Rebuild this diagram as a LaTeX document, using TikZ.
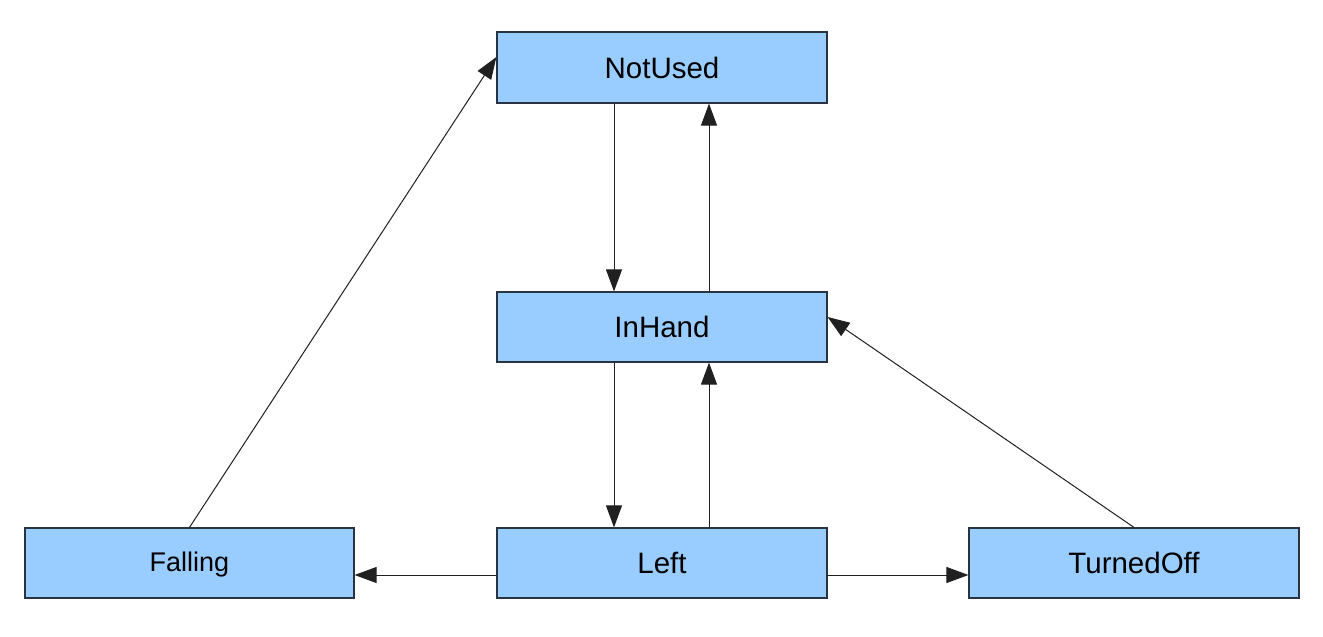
\documentclass[tikz,border=0pt]{standalone}
\usepackage{fontspec}
\setmainfont{Liberation Sans}
\usetikzlibrary{arrows.meta}
\definecolor{boxfill}{HTML}{99CCFF}
\definecolor{boxline}{HTML}{2A3440}
\definecolor{arrline}{HTML}{202020}
\begin{document}
\begin{tikzpicture}[x=1pt,y=-1pt,
  state/.style={draw=boxline,fill=boxfill,line width=1.2pt,minimum width=330pt,minimum height=70pt,inner sep=0pt,font=\fontsize{29.5}{34}\selectfont},
  conn/.style={draw=arrline,line width=1pt,-{Triangle[length=22pt,width=16pt]}}]
\useasboundingbox (0,0) rectangle (1323,637);
\fill[white] (0,0) rectangle (1323,637);
\node[state,minimum height=71pt] (notused) at (662,67.5) {NotUsed};
\node[state] (inhand) at (662,327) {InHand};
\node[state] (left) at (662,563) {Left};
\node[state,minimum width=329pt,font=\fontsize{27}{31}\selectfont,text depth=2pt] (falling) at (189.5,563) {Falling};
\node[state] (turnedoff) at (1134,563) {TurnedOff};
\draw[conn] ([xshift=-48pt]notused.south) -- ([xshift=-48pt]inhand.north);
\draw[conn] ([xshift=47pt]inhand.north) -- ([xshift=47pt]notused.south);
\draw[conn] ([xshift=-48pt]inhand.south) -- ([xshift=-48pt]left.north);
\draw[conn] ([xshift=47pt]left.north) -- ([xshift=47pt]inhand.south);
\draw[conn] ([yshift=-12pt]left.west) -- ([yshift=-12pt]falling.east);
\draw[conn] ([yshift=-12pt]left.east) -- ([yshift=-12pt]turnedoff.west);
\draw[conn] (falling.north) -- ([yshift=10.5pt]notused.west);
\draw[conn] (turnedoff.north) -- ([yshift=10pt]inhand.east);
\end{tikzpicture}
\end{document}
